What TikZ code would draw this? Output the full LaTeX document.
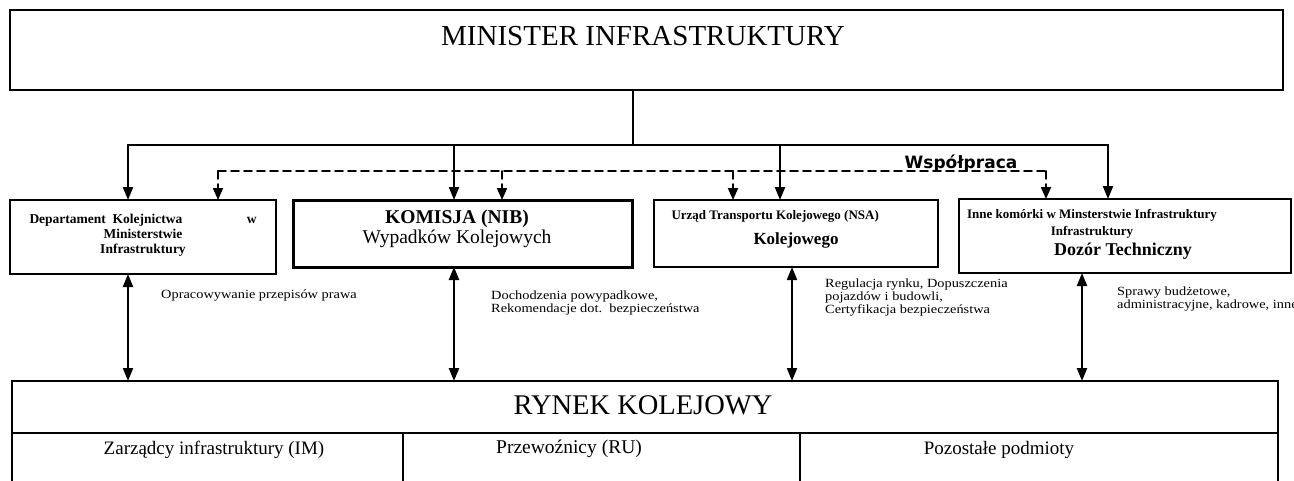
\documentclass[tikz,border=0pt]{standalone}
\usepackage{fontspec}
\setmainfont{Liberation Serif}
\newfontfamily\annfont[FakeStretch=1.15]{Liberation Serif}
\newfontfamily\coopfont{DejaVu Sans}
\usetikzlibrary{arrows.meta,positioning}
\newcommand{\fs}[2]{\fontsize{#1}{#2}\selectfont}

\begin{document}
\begin{tikzpicture}[x=1pt,y=-1pt,line cap=round,
  box/.style={draw,line width=1.6pt,inner sep=0pt,outer sep=0pt},
  arr/.style={line width=2.2pt,-{Triangle[length=13pt,width=10pt]}},
  biarr/.style={line width=2.2pt,{Triangle[length=13pt,width=10pt]}-{Triangle[length=13pt,width=10pt]}},
  darr/.style={line width=1.8pt,dash pattern=on 8pt off 5pt,-{Triangle[length=12pt,width=10pt]}},
  note/.style={font=\annfont\fs{12.5}{13},align=left,anchor=north west,inner sep=0pt}]
  \useasboundingbox (0,0) rectangle (1294,480);
  % boxes
  \node[box,minimum width=1273pt,minimum height=80pt] (minister) at (646.5,50) {};
  \node[box,minimum width=266pt,minimum height=74pt] (dept) at (143,237) {};
  \node[box,line width=3pt,minimum width=339pt,minimum height=67pt] (nib) at (462.5,233.5) {};
  \node[box,minimum width=284pt,minimum height=67pt] (nsa) at (796,233.5) {};
  \node[box,minimum width=332pt,minimum height=74pt] (inne) at (1125,236) {};
  \node[box,minimum width=1266pt,minimum height=52pt] (rynek) at (645,407) {};
  \node[box,minimum width=391pt,minimum height=80pt,anchor=north west] (im) at (rynek.south west) {};
  \node[box,minimum width=397pt,minimum height=80pt,anchor=north west] (ru) at (im.north east) {};
  \node[box,minimum width=478pt,minimum height=80pt,anchor=north west] (pp) at (ru.north east) {};
  % texts
  \node[font=\fs{29}{30}] (mintxt) at (643,36) {MINISTER INFRASTRUKTURY};
  \node[font=\bfseries\fs{13.5}{15},align=center] (depttxt) at (143,235)
    {\makebox[227pt]{Departament\ \ Kolejnictwa\hfill w}\\Ministerstwie\\Infrastruktury};
  \node[font=\fs{19.5}{20},align=center] (nibtxt) at (457,229) {\bfseries KOMISJA (NIB)\\Wypadków Kolejowych};
  \node[font=\bfseries\fs{13}{15},anchor=west] (nsatxt) at (668,216) {Urząd Transportu Kolejowego (NSA)};
  \node[font=\bfseries\fs{17}{18}] (nsatxtb) at (796,240) {Kolejowego};
  \node[font=\bfseries\fs{13}{17},align=center] (innetxt) at (1092,224) {Inne komórki w Minsterstwie Infrastruktury\\Infrastruktury};
  \node[font=\bfseries\fs{18}{18}] (innetxtb) at (1123,251) {Dozór Techniczny};
  \node[font=\fs{28.5}{29}] (rynektxt) at (643,405) {RYNEK KOLEJOWY};
  \node[font=\fs{19}{20}] (imtxt) at (214,450) {Zarządcy infrastruktury (IM)};
  \node[font=\fs{19.5}{20}] (rutxt) at (569,449) {Przewoźnicy (RU)};
  \node[font=\fs{19}{20}] (pptxt) at (999,450) {Pozostałe podmioty};
  \node[note] (n1) at (161,290) {Opracowywanie przepisów prawa};
  \node[note] (n2) at (491,291) {Dochodzenia powypadkowe,\\Rekomendacje dot.\ \ bezpieczeństwa};
  \node[note] (n3) at (825,279) {Regulacja rynku, Dopuszczenia\\pojazdów i budowli,\\Certyfikacja bezpieczeństwa};
  \node[note] (n4) at (1117,287) {Sprawy budżetowe,\\administracyjne, kadrowe, inne};
  \node[font=\coopfont\bfseries\fs{17}{17},anchor=base] (coop) at (961,168) {Współpraca};
  % subordination
  \coordinate (bus) at (633,145);
  \draw[line width=1.6pt] (minister.south -| bus) -- (bus);
  \draw[line width=2pt] (128,145) -- (1108,145);
  \foreach \x/\b in {128/dept,454/nib,780/nsa,1108/inne}
    \draw[arr] (\x,145) -- (\x,145 |- \b.north);
  % cooperation
  \coordinate (dl) at (218,171);
  \coordinate (dr) at (1046,171);
  \draw[line width=1.8pt,dash pattern=on 8pt off 5pt] (dl) -- (dr);
  \foreach \x/\b in {218/dept,502/nib,733/nsa,1046/inne}
    \draw[darr] (\x,171) -- (\x,171 |- \b.north);
  % links to the market
  \foreach \x/\b in {128/dept,454/nib,792/nsa,1082/inne}
    \draw[biarr] (\x,0 |- \b.south) -- (\x,0 |- rynek.north);
\end{tikzpicture}
\end{document}
